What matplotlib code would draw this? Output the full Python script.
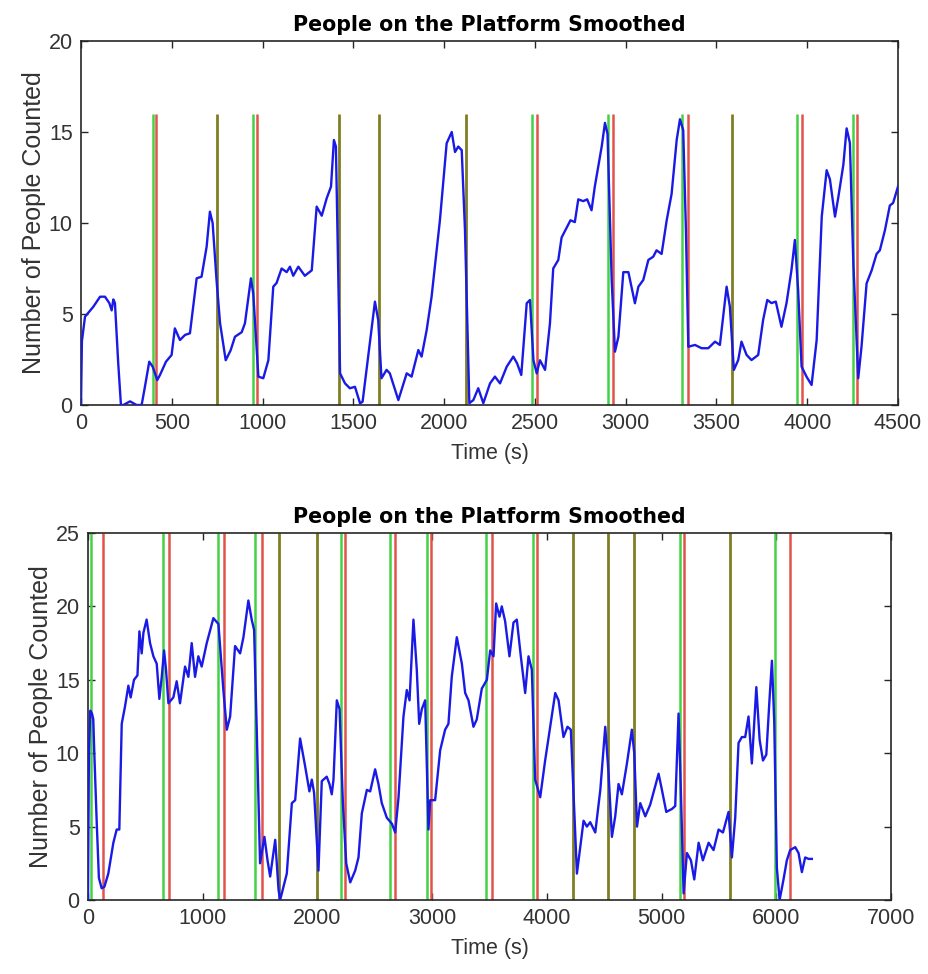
import numpy as np
from matplotlib import pyplot as plt

# top run: smoothed people count
t_top = [0, 5, 22, 68, 105, 132, 156, 169, 178, 187, 205, 220, 233, 270, 306, 334, 352, 376, 395, 420,
         435, 468, 499, 517, 545, 573, 600, 637, 664, 692, 710, 725, 747, 766, 797, 824, 848, 885, 903, 936,
         949, 977, 1004, 1032, 1059, 1077, 1105, 1133, 1151, 1169, 1197, 1233, 1271, 1298, 1326, 1353, 1377,
         1393, 1404, 1427, 1454, 1481, 1509, 1537, 1551, 1619, 1637, 1655, 1683, 1701, 1748, 1794, 1821,
         1858, 1876, 1904, 1931, 1977, 2014, 2042, 2060, 2078, 2097, 2115, 2139, 2161, 2188, 2216, 2253,
         2280, 2308, 2345, 2381, 2402, 2425, 2455, 2473, 2492, 2510, 2528, 2556, 2583, 2601, 2629, 2647,
         2678, 2696, 2720, 2739, 2766, 2788, 2812, 2830, 2868, 2886, 2900, 2923, 2941, 2960, 2987, 3015,
         3051, 3070, 3097, 3125, 3152, 3170, 3198, 3226, 3253, 3281, 3299, 3317, 3332, 3345, 3382, 3418,
         3455, 3492, 3519, 3556, 3574, 3596, 3620, 3638, 3666, 3693, 3730, 3757, 3780, 3803, 3827, 3858,
         3886, 3913, 3932, 3950, 3969, 3996, 4024, 4052, 4080, 4107, 4125, 4153, 4171, 4199, 4217, 4235,
         4254, 4281, 4299, 4327, 4355, 4382, 4400, 4428, 4455, 4473, 4500]
n_top = [0, 3.5, 4.85, 5.4, 5.95, 5.95, 5.6, 5.2, 5.8, 5.6, 2.3, 0, 0, 0.2, 0, 0, 1.0, 2.38, 2.1, 1.37,
         1.65, 2.38, 2.75, 4.21, 3.57, 3.85, 3.94, 6.96, 7.05, 8.7, 10.62, 10.0, 6.8, 4.49, 2.46, 3.0, 3.75,
         4.0, 4.49, 6.96, 6.1, 1.56, 1.47, 2.46, 6.5, 6.7, 7.5, 7.3, 7.6, 7.1, 7.6, 7.1, 7.4, 10.9, 10.4,
         11.35, 12.0, 14.56, 14.2, 1.74, 1.19, 0.92, 1.0, 0.09, 0.18, 5.68, 4.67, 1.47, 1.93, 1.74, 0.27,
         1.74, 1.56, 3.02, 2.66, 4.12, 5.95, 10.16, 14.38, 15.0, 13.9, 14.2, 14.0, 9.6, 0.1, 0.27, 0.92,
         0.1, 1.19, 1.56, 1.19, 2.11, 2.66, 2.29, 1.65, 5.59, 5.77, 2.46, 1.74, 2.46, 1.93, 4.49, 7.5, 7.97,
         9.2, 9.8, 10.15, 10.05, 11.3, 11.2, 11.3, 10.7, 12.0, 14.2, 15.5, 14.9, 6.87, 2.93, 3.75, 7.3, 7.3,
         5.59, 6.5, 6.87, 7.97, 8.15, 8.5, 8.3, 10.15, 11.6, 14.56, 15.7, 15.1, 9.6, 3.2, 3.3, 3.12, 3.12,
         3.48, 3.3, 6.5, 5.4, 1.93, 2.47, 3.48, 2.75, 2.47, 2.75, 4.67, 5.77, 5.6, 5.68, 4.3, 5.6, 7.4, 9.07,
         6.3, 2.11, 1.56, 1.1, 3.57, 10.35, 12.9, 12.4, 10.35, 11.4, 13.2, 15.2, 14.4, 7.8, 1.47, 3.2, 6.68,
         7.4, 8.3, 8.5, 9.6, 10.96, 11.1, 12.0]
green_top = [395, 745, 949, 1415, 1641, 2114, 2486, 2904, 3312, 3585, 3942, 4250]
red_top = [413, 749, 968, 1422, 1645, 2122, 2513, 2932, 3341, 3589, 3969, 4272]

# bottom run
t_bot = [0, 8, 20, 35, 46, 55, 76, 95, 119, 143, 177, 221, 250, 273, 294, 323, 352, 372, 401, 431, 448,
         468, 483, 511, 541, 570, 599, 622, 643, 663, 680, 701, 744, 773, 802, 846, 875, 904, 933, 962, 991,
         1035, 1093, 1137, 1180, 1210, 1239, 1282, 1326, 1355, 1398, 1427, 1448, 1471, 1500, 1538, 1565,
         1588, 1632, 1661, 1675, 1733, 1777, 1806, 1849, 1893, 1930, 1951, 1971, 2009, 2038, 2081, 2105,
         2125, 2140, 2169, 2193, 2222, 2251, 2286, 2329, 2358, 2387, 2431, 2460, 2503, 2532, 2561, 2605,
         2649, 2678, 2707, 2750, 2779, 2803, 2837, 2866, 2887, 2910, 2939, 2968, 2983, 3026, 3070, 3113,
         3142, 3171, 3215, 3259, 3288, 3317, 3360, 3389, 3433, 3477, 3506, 3535, 3558, 3587, 3607, 3636,
         3674, 3709, 3738, 3773, 3811, 3840, 3869, 3898, 3942, 3985, 4029, 4073, 4102, 4145, 4180, 4209,
         4262, 4291, 4320, 4349, 4378, 4422, 4466, 4509, 4538, 4567, 4596, 4625, 4654, 4698, 4741, 4762,
         4786, 4814, 4858, 4901, 4936, 4974, 5003, 5041, 5090, 5119, 5148, 5168, 5192, 5221, 5256, 5285,
         5323, 5360, 5410, 5453, 5497, 5535, 5584, 5613, 5642, 5671, 5700, 5729, 5758, 5787, 5826, 5855,
         5884, 5913, 5942, 5962, 5982, 6005, 6029, 6063, 6092, 6121, 6165, 6194, 6223, 6252, 6281, 6310]
n_bot = [0, 10, 12.9, 12.7, 12.3, 10.0, 5.3, 1.5, 0.8, 0.9, 1.8, 3.9, 4.8, 4.8, 12.0, 13.2, 14.6, 13.8,
         15.0, 15.3, 18.3, 16.8, 18.2, 19.1, 17.5, 16.6, 16.1, 13.7, 15.2, 17.0, 15.7, 13.4, 13.8, 14.9,
         13.4, 15.9, 15.2, 17.5, 15.2, 16.6, 15.9, 17.5, 19.2, 18.8, 14.3, 11.6, 12.5, 17.3, 16.8, 17.9,
         20.4, 19.1, 18.4, 11.6, 2.5, 4.3, 2.7, 1.6, 4.1, 0.7, 0, 1.8, 6.6, 6.8, 11.0, 9.1, 7.4, 8.2, 7.3,
         2.0, 8.1, 8.4, 7.9, 7.2, 8.2, 13.6, 13.0, 6.6, 2.5, 1.2, 2.0, 2.9, 5.9, 7.5, 7.4, 8.9, 7.9, 6.6,
         5.6, 5.2, 4.6, 7.0, 12.5, 14.3, 13.6, 19.1, 15.7, 12.0, 13.0, 13.6, 4.8, 6.8, 6.8, 10.2, 11.6,
         12.0, 15.2, 17.9, 16.1, 14.1, 13.6, 11.8, 12.3, 14.4, 15.0, 17.0, 16.6, 20.2, 19.3, 20.0, 19.0,
         16.6, 18.9, 19.1, 16.6, 14.1, 16.6, 15.7, 8.2, 7.0, 9.5, 11.8, 14.1, 13.6, 11.1, 11.8, 11.6, 1.8,
         3.6, 5.4, 5.0, 5.3, 4.6, 7.5, 11.8, 8.6, 4.3, 5.7, 7.9, 7.2, 9.3, 11.6, 10.0, 5.0, 6.6, 5.7, 6.5,
         7.5, 8.6, 7.5, 6.0, 6.2, 6.4, 12.7, 7.5, 0.45, 3.2, 2.7, 1.4, 3.9, 2.7, 3.9, 3.4, 4.8, 4.6, 6.0,
         2.9, 5.6, 10.7, 11.1, 11.1, 12.5, 9.3, 14.5, 10.9, 9.5, 9.9, 13.8, 16.3, 12.2, 2.2, 0, 1.4, 2.7,
         3.4, 3.6, 3.2, 1.9, 2.9, 2.8, 2.8]
green_bot = [30, 657, 1136, 1456, 1663, 1993, 2206, 2633, 2953, 3470, 3877, 4226, 4527, 4762, 5161, 5596, 5990]
red_bot = [133, 709, 1186, 1520, 1667, 1997, 2241, 2677, 2988, 3519, 3917, 4236, 4531, 4766, 5199, 5600, 6120]

tick_font = ['Liberation Sans Narrow', 'Liberation Sans', 'DejaVu Sans']
GREEN = '#45d145'
RED = '#e2524a'
OLIVE = '#7f7f22'


def draw_panel(ax, t, n, greens, reds, line_top, merge_gap, xlim, ylim, xticks, yticks):
    for g, r in zip(greens, reds):
        if abs(r - g) < merge_gap:
            ax.vlines((g + r) / 2, 0, line_top, color=OLIVE, lw=2.0, zorder=2)
        else:
            ax.vlines(g, 0, line_top, color=GREEN, lw=1.8, zorder=2)
            ax.vlines(r, 0, line_top, color=RED, lw=1.8, zorder=2)
    ax.plot(t, n, color='#1a1ae6', lw=1.7, zorder=3)
    ax.set_xlim(*xlim)
    ax.set_ylim(*ylim)
    ax.set_xticks(xticks)
    ax.set_yticks(yticks)
    ax.tick_params(direction='in', top=True, right=True, length=5, width=1.0,
                   colors='#262626', labelsize=15.5, pad=6)
    for lab in ax.get_xticklabels() + ax.get_yticklabels():
        lab.set_family(tick_font)
        lab.set_color('#333333')
    for s in ax.spines.values():
        s.set_color('#262626')
        s.set_linewidth(1.2)
    ax.set_title('People on the Platform Smoothed', fontsize=14.8, fontweight='bold',
                 family='DejaVu Sans', pad=7)
    ax.set_xlabel('Time (s)', fontsize=15.5, family=tick_font, color='#333333', labelpad=6)
    ax.set_ylabel('Number of People Counted', fontsize=18, family=tick_font, color='#333333', labelpad=2)


fig = plt.figure(figsize=(9.29, 9.74), dpi=100)
ax1 = fig.add_axes([81 / 929, 1 - 405 / 974, 817 / 929, 364 / 974])
ax2 = fig.add_axes([88 / 929, 1 - 900 / 974, 803 / 929, 367 / 974])

draw_panel(ax1, t_top, n_top, green_top, red_top, 16, 12, (0, 4500), (0, 20),
           np.arange(0, 4501, 500), np.arange(0, 21, 5))
draw_panel(ax2, t_bot, n_bot, green_bot, red_bot, 25, 18, (0, 7000), (0, 25),
           np.arange(0, 7001, 1000), np.arange(0, 26, 5))

fig.savefig('out.png', dpi=100)
